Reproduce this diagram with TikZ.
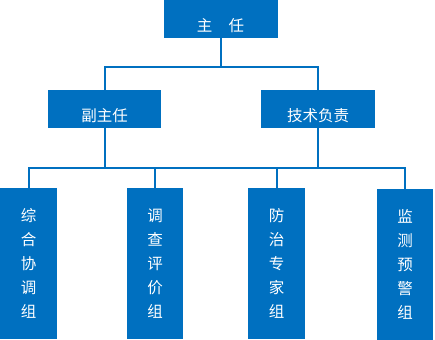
\documentclass[tikz,border=0pt]{standalone}
\usepackage{fontspec}
\newfontfamily\cjk{Noto Sans CJK SC}
\usetikzlibrary{positioning}
\definecolor{orgblue}{HTML}{0070C0}

\begin{document}
\begin{tikzpicture}[
        x=1pt, y=-1pt,
        box/.style={fill=orgblue, text=white, inner sep=0pt, font=\cjk\fontsize{15.5}{24}\selectfont},
        headbox/.style={box, minimum height=38pt, text height=25pt, text depth=0pt},
        groupbox/.style={box, minimum height=151pt, align=center},
        link/.style={draw=orgblue, line width=2pt}
      ]
      \useasboundingbox (0,0) rectangle (435,339);
      \node[headbox, minimum width=114pt] (zhuren) at (220.5,18.75) {主\hspace{16.5pt}任};
      \node[headbox, minimum width=113pt] (fuzhuren) at (104.5,109) {副主任};
      \node[headbox, minimum width=114pt] (jishu) at (318,109) {技术负责};
      \node[groupbox, minimum width=57pt] (zonghe) at (28.5,263.5) {综\\合\\协\\调\\组};
      \node[groupbox, minimum width=56pt] (diaocha) at (155,263.5) {调\\查\\评\\价\\组};
      \node[groupbox, minimum width=57pt] (fangzhi) at (276.5,263.5) {防\\治\\专\\家\\组};
      \node[groupbox, minimum width=56pt] (jiance) at (405,264.5) {监\\测\\预\\警\\组};
      \coordinate (upbus) at (220.5,67);
      \coordinate (lowbus) at (212,168);
      \draw[link] (zhuren) -- (upbus);
      \draw[link] (fuzhuren.north) |- (upbus) -| (jishu.north);
      \draw[link] (fuzhuren.south) -- (fuzhuren.south |- lowbus);
      \draw[link] (jishu.south) -- (jishu.south |- lowbus);
      \draw[link] (zonghe.north) |- (lowbus) -| (jiance.north);
      \draw[link] (diaocha.north) -- (diaocha.north |- lowbus);
      \draw[link] (fangzhi.north) -- (fangzhi.north |- lowbus);
    \end{tikzpicture}
\end{document}
